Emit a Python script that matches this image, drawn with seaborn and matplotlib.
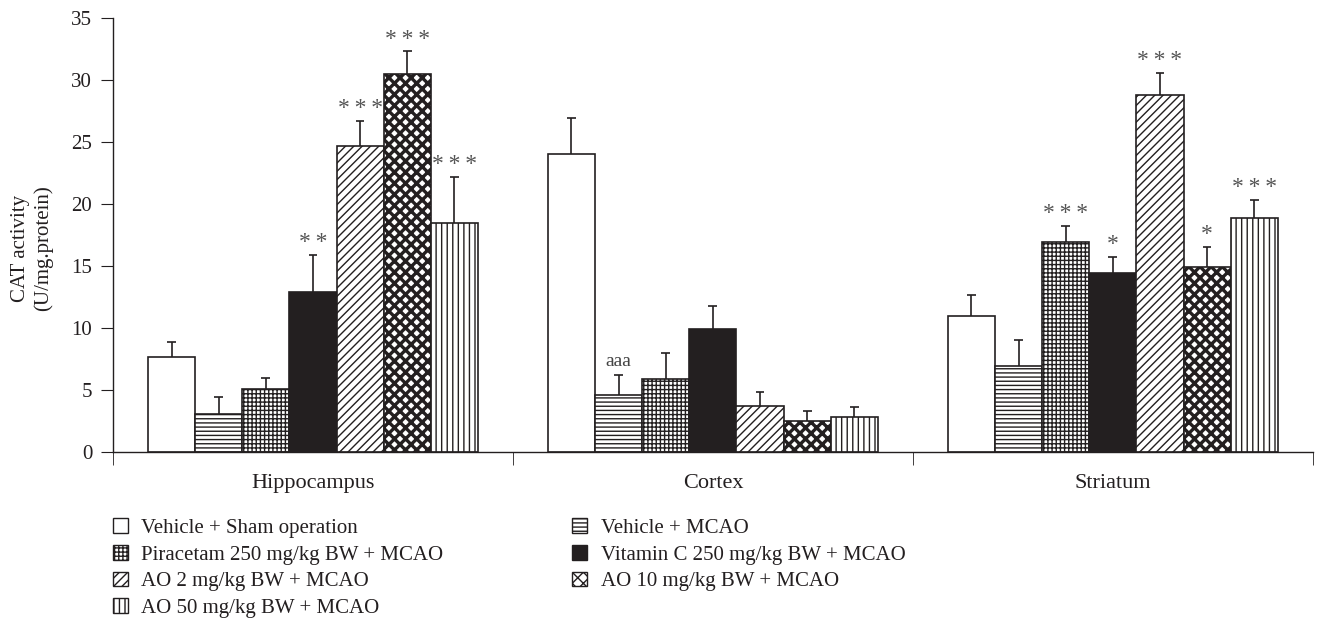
import matplotlib
matplotlib.use("Agg")
import numpy as np
import pandas as pd
import seaborn as sns
import matplotlib.pyplot as plt
from matplotlib.patches import Patch

regions = ["Hippocampus", "Cortex", "Striatum"]
groups = [
    "Vehicle + Sham operation",
    "Vehicle + MCAO",
    "Piracetam 250 mg/kg BW + MCAO",
    "Vitamin C 250 mg/kg BW + MCAO",
    "AO 2 mg/kg BW + MCAO",
    "AO 10 mg/kg BW + MCAO",
    "AO 50 mg/kg BW + MCAO",
]

# mean CAT activity per group, one list per region (order as groups)
hippocampus = [7.7, 3.1, 5.1, 12.9, 24.7, 30.5, 18.5]
cortex = [24.0, 4.6, 5.9, 9.9, 3.7, 2.5, 2.8]
striatum = [11.0, 6.9, 16.9, 14.4, 28.8, 14.9, 18.9]

hippocampus_err = [1.2, 1.3, 0.9, 3.0, 2.0, 1.8, 3.7]
cortex_err = [2.9, 1.6, 2.1, 1.9, 1.1, 0.8, 0.8]
striatum_err = [1.7, 2.1, 1.3, 1.3, 1.8, 1.6, 1.4]

hippocampus_sig = ["", "", "", "**", "***", "***", "***"]
cortex_sig = ["", "aaa", "", "", "", "", ""]
striatum_sig = ["", "", "***", "*", "***", "*", "***"]

dark = "#231f20"
hatches = ["", "----", "++++", "", "////", "xxx", "|||"]
faces = ["white", "white", "white", dark, "white", "white", "white"]
hatch_lw = [1.0, 1.0, 1.0, 1.0, 1.0, 2.4, 1.0]

rows = []
for reg, vals, errs, sigs in zip(regions,
                                 [hippocampus, cortex, striatum],
                                 [hippocampus_err, cortex_err, striatum_err],
                                 [hippocampus_sig, cortex_sig, striatum_sig]):
    for g, v, e, s in zip(groups, vals, errs, sigs):
        rows.append({"region": reg, "group": g, "value": v, "err": e, "sig": s})
df = pd.DataFrame(rows)

sns.set_style("ticks")
plt.rcParams["font.family"] = ["Liberation Serif", "DejaVu Serif"]
plt.rcParams["hatch.linewidth"] = 1.0
plt.rcParams["hatch.color"] = dark


def style_patch(p, i):
    p.set_facecolor(faces[i])
    p.set_edgecolor(dark)
    p.set_hatch(hatches[i])
    if hasattr(p, "set_hatch_linewidth"):
        p.set_hatch_linewidth(hatch_lw[i])
    else:
        p._hatch_linewidth = hatch_lw[i]


fig = plt.figure(figsize=(13.17, 6.2), dpi=100)
ax = fig.add_axes([0.0858, 0.271, 0.911, 0.70])

sns.barplot(data=df, x="region", y="value", hue="group", order=regions,
            hue_order=groups, width=0.825, errorbar=None, ax=ax,
            edgecolor=dark, linewidth=1.2, legend=False)

for i, cont in enumerate(ax.containers):
    sub = df[df["group"] == groups[i]].set_index("region").loc[regions]
    for bar, err, sig in zip(cont.patches, sub["err"], sub["sig"]):
        style_patch(bar, i)
        xc = bar.get_x() + bar.get_width() / 2
        top = bar.get_height()
        ax.vlines(xc, top, top + err, color=dark, lw=1.2, zorder=3)
        ax.hlines(top + err, xc - 0.011, xc + 0.011, color=dark, lw=1.2, zorder=3)
        if sig.startswith("*"):
            ax.text(xc, top + err + 1.0, "\u2009".join(sig), ha="center", va="center",
                    fontsize=17, color="#555555")
        elif sig:
            ax.text(xc, top + err + 0.45, sig, ha="center", va="bottom",
                    fontsize=14, color="#444444")

ax.set_xlim(-0.5, 2.5)
ax.set_ylim(0, 35)
ax.set_yticks(range(0, 36, 5))
ax.set_xticks([0, 1, 2])
ax.set_xticklabels(regions)
ax.set_xticks([-0.5, 0.5, 1.5, 2.5], minor=True)
ax.tick_params(axis="x", which="major", length=0, pad=16, labelsize=16, colors=dark)
ax.tick_params(axis="x", which="minor", length=9, direction="out", color=dark)
ax.tick_params(axis="y", length=9, direction="out", pad=6, labelsize=15, colors=dark)
ax.set_xlabel("")
ax.set_ylabel("CAT activity\n(U/mg.protein)", fontsize=15, color=dark)
ax.yaxis.set_label_coords(-0.05, 0.47)
sns.despine(ax=ax)
for s in ["left", "bottom"]:
    ax.spines[s].set_color(dark)
    ax.spines[s].set_linewidth(1.0)

handles = []
for i in range(len(groups)):
    h = Patch(linewidth=1.0)
    style_patch(h, i)
    handles.append(h)
order = [0, 2, 4, 6, 1, 3, 5]
fig.legend([handles[i] for i in order], [groups[i] for i in order],
           loc="upper left", bbox_to_anchor=(0.0858, 0.164), ncol=2, frameon=False,
           fontsize=15, handlelength=0.7, handleheight=0.7, handletextpad=0.65,
           columnspacing=6.2, labelspacing=0.34, borderpad=0, borderaxespad=0,
           labelcolor=dark)

fig.savefig("out.png", dpi=100)
